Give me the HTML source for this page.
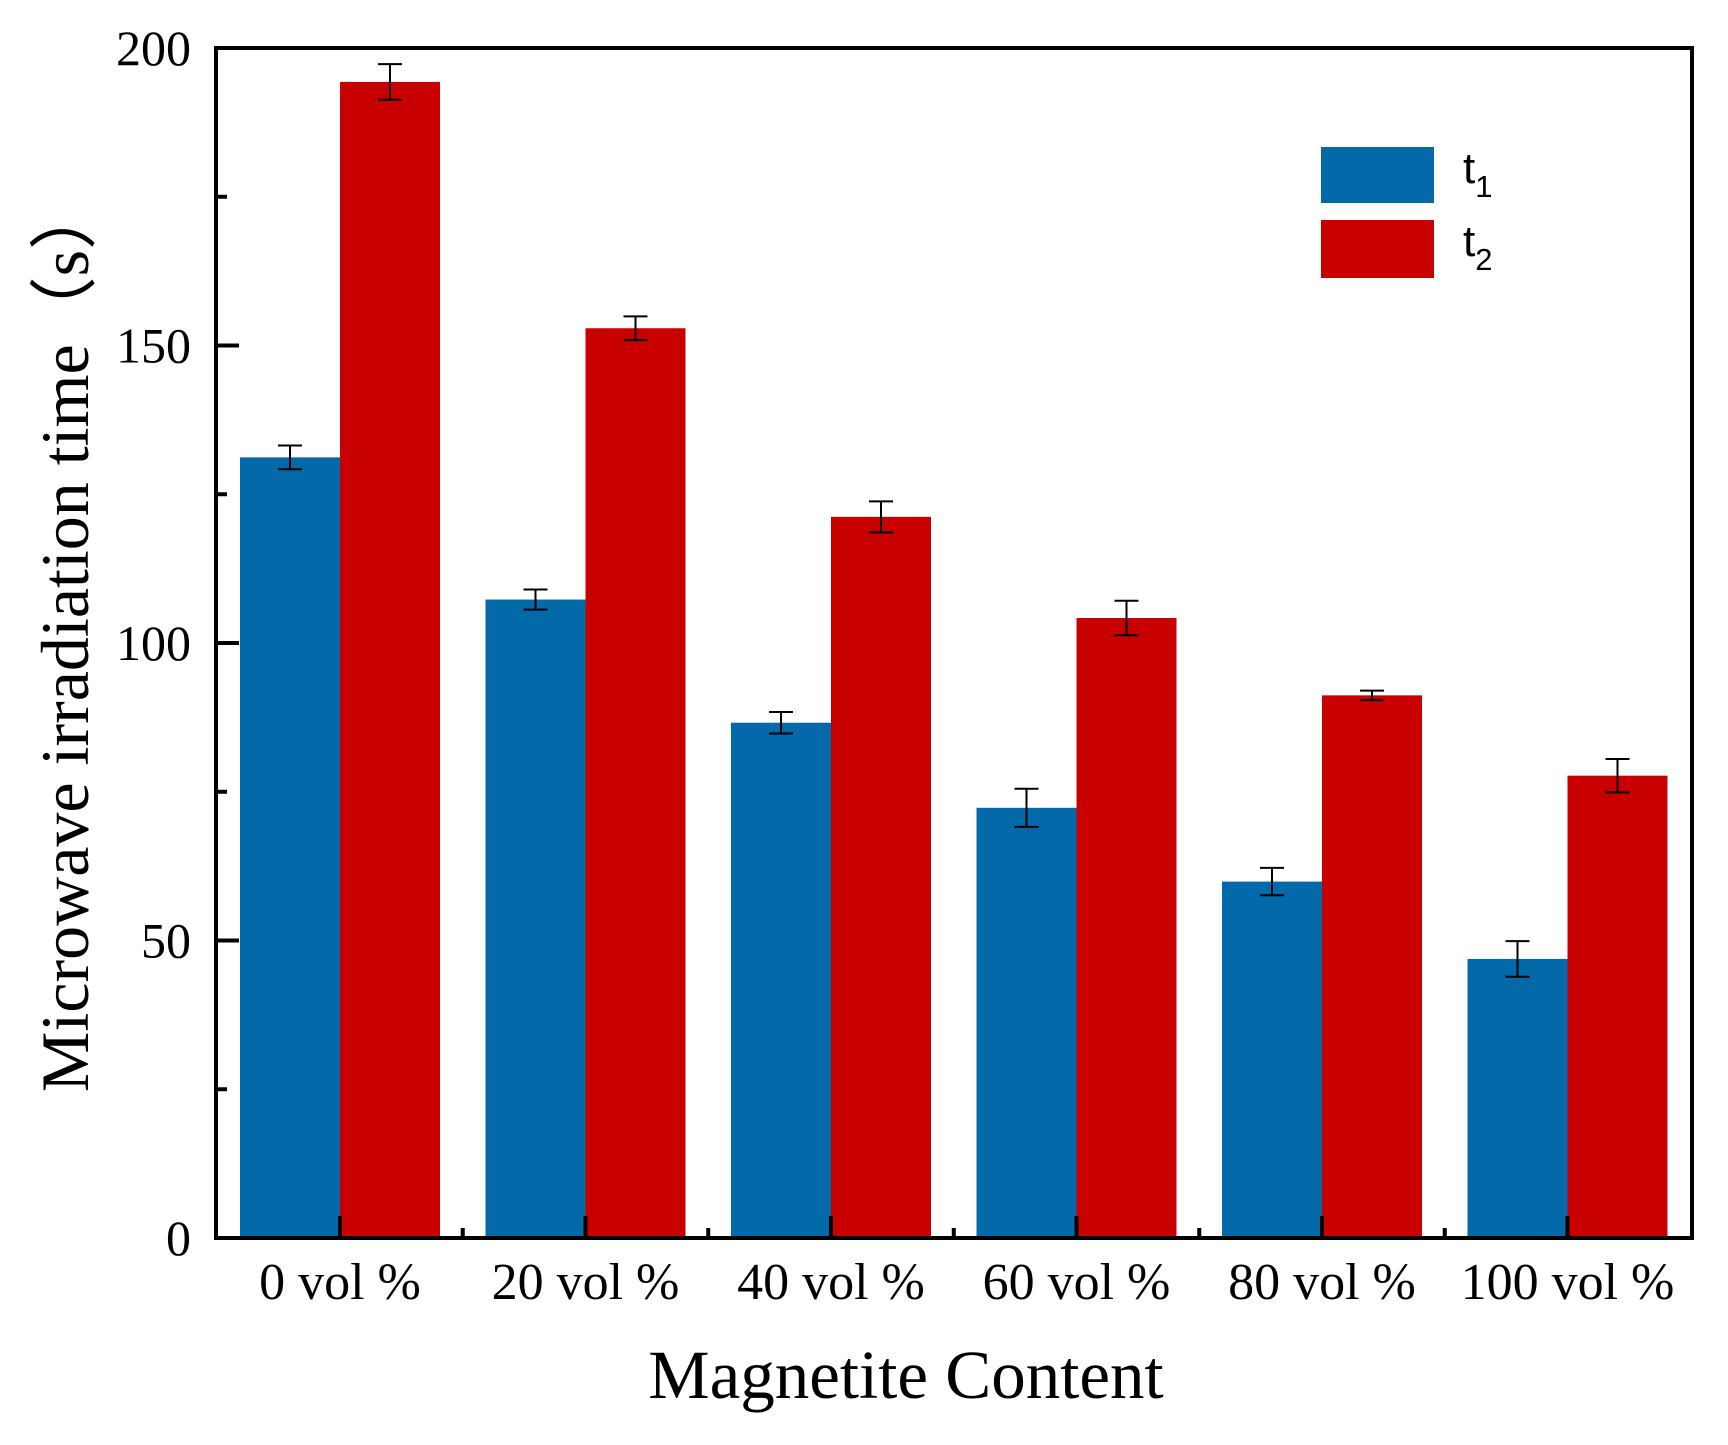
<!DOCTYPE html>
<html><head><meta charset="utf-8"><style>
html,body{margin:0;padding:0;background:#fff;}
svg{display:block;}
text{font-family:"Liberation Serif",serif;fill:#000;}
</style></head><body>
<svg id="chart" width="1728" height="1445" viewBox="0 0 1728 1445" xmlns="http://www.w3.org/2000/svg">
<rect x="0" y="0" width="1728" height="1445" fill="#fff"/>
<g id="bars"></g>
<g id="axes"></g>
<g>
<rect x="1321" y="147" width="113" height="56" fill="#0369a9"/>
<rect x="1321" y="220" width="113" height="58" fill="#c80000"/>
<text x="1463" y="183" style="font-family:'Liberation Sans',sans-serif;font-size:44px">t<tspan font-size="31" dy="14">1</tspan></text>
<text x="1463" y="256" style="font-family:'Liberation Sans',sans-serif;font-size:44px">t<tspan font-size="31" dy="14">2</tspan></text>
</g>
<text transform="translate(88,637) rotate(-90)" text-anchor="middle" font-size="68">Microwave irradiation time（s）</text>
<text x="906" y="1398" text-anchor="middle" font-size="69">Magnetite Content</text>
</svg>
<script>
const categories = ["0 vol %","20 vol %","40 vol %","60 vol %","80 vol %","100 vol %"];
const t1Values = [131.2,107.3,86.6,72.3,59.9,46.9];
const t1Errors = [2.0,1.7,1.8,3.2,2.3,3.0];
const t2Values = [194.3,152.9,121.2,104.2,91.2,77.7];
const t2Errors = [3.0,2.0,2.6,2.9,0.8,2.8];
const yTicks = [0,50,100,150,200];

const NS="http://www.w3.org/2000/svg";
const L=216,R=1692,T=48,B=1238;
const y=v=>B-(v/200)*(B-T);
const step=245.5, c0=340;
const xc=i=>c0+i*step;
const bw=100;
function mk(tag,attrs,parent){const e=document.createElementNS(NS,tag);for(const k in attrs)e.setAttribute(k,attrs[k]);parent.appendChild(e);return e;}
const bars=document.getElementById('bars');
const axes=document.getElementById('axes');
function drawSeries(vals,errs,off,color,name){
  vals.forEach((v,i)=>{
    const x0=xc(i)+off;
    const r=mk('rect',{x:x0,y:y(v),width:bw,height:B-y(v),fill:color},bars);
    
    
    const cx=x0+bw/2, e=errs[i];
    const g=mk('path',{d:`M${cx},${y(v+e)}V${y(v-e)}M${cx-12},${y(v+e)}H${cx+12}M${cx-12},${y(v-e)}H${cx+12}`,stroke:'#000','stroke-width':2,fill:'none'},bars);
    
    
  });
}
drawSeries(t1Values,t1Errors,-bw,'#0369a9','t1');
drawSeries(t2Values,t2Errors,0,'#c80000','t2');
const f=mk('rect',{x:L,y:T,width:R-L,height:B-T,fill:'none',stroke:'#000','stroke-width':4},axes);


for(let v=0;v<=200;v+=25){
  const len=(v%50===0)?23:11;
  const t=mk('line',{x1:L,x2:L+len,y1:y(v),y2:y(v),stroke:'#000','stroke-width':4},axes);
  
  
}
yTicks.forEach(v=>{
  const t=mk('text',{x:191,y:y(v)+17,'text-anchor':'end','font-size':50},axes);
  t.textContent=v;
  
  
});
categories.forEach((c,i)=>{
  const t=mk('line',{x1:xc(i),x2:xc(i),y1:B,y2:B-22,stroke:'#000','stroke-width':4},axes);
  
  
  if(i<categories.length-1){
    const m=mk('line',{x1:xc(i)+step/2,x2:xc(i)+step/2,y1:B,y2:B-10,stroke:'#000','stroke-width':4},axes);
    
    
  }
  const l=mk('text',{x:xc(i),y:1299,'text-anchor':'middle','font-size':52},axes);
  l.textContent=c;
  
  
});
</script>
</body></html>
